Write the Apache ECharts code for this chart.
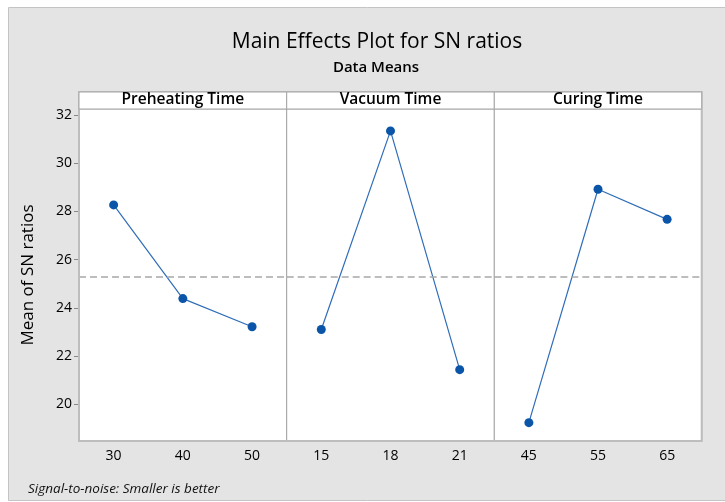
<!DOCTYPE html>
<html>
<head>
<meta charset="utf-8">
<script src="https://cdn.jsdelivr.net/npm/echarts@6/dist/echarts.min.js"></script>
<style>
	html, body { margin: 0; padding: 0; background: #fff; }
	#chart { width: 725px; height: 502px; }
</style>
</head>
<body>
<div id="chart"></div>
<script>
	// factors and their levels
	const factors = ['Preheating Time', 'Vacuum Time', 'Curing Time']
	const preheatLevels = ['30', '40', '50']
	const vacuumLevels = ['15', '18', '21']
	const curingLevels = ['45', '55', '65']

	// mean S/N ratio at each level
	const preheatMeans = [28.27, 24.38, 23.21]
	const vacuumMeans = [23.10, 31.34, 21.43]
	const curingMeans = [19.23, 28.92, 27.67]

	const overallMean = 25.28
	const yTicks = [20, 22, 24, 26, 28, 30, 32]

	const levels = [preheatLevels, vacuumLevels, curingLevels]
	const means = [preheatMeans, vacuumMeans, curingMeans]

	const FONT = 'Open Sans'
	const panelLeft = [79, 286.7, 494.3]
	const panelRight = [438.3, 230.7, 23.3]

	let mychart = echarts.init(document.getElementById('chart'))

	let grids = [], xAxes = [], yAxes = [], series = [], headers = []
	for (let i = 0; i < 3; i++) {
		grids.push({
			left: panelLeft[i],
			right: panelRight[i],
			top: 109,
			bottom: 61,
			show: true,
			borderColor: '#a6a6a6',
			borderWidth: 1,
			backgroundColor: '#fff'
		})
		xAxes.push({
			type: 'category',
			gridIndex: i,
			data: levels[i],
			boundaryGap: true,
			axisLine: { lineStyle: { color: '#a6a6a6' } },
			axisTick: { alignWithLabel: true, length: 5, lineStyle: { color: '#888' } },
			axisLabel: { color: '#000', fontFamily: FONT, fontSize: 14, margin: 8 }
		})
		yAxes.push({
			type: 'value',
			gridIndex: i,
			min: 18.47,
			max: 32.25,
			splitLine: { show: false },
			axisLine: { show: i == 0, lineStyle: { color: '#a6a6a6' } },
			axisTick: { show: i == 0, length: 5, customValues: yTicks, lineStyle: { color: '#888' } },
			axisLabel: { show: i == 0, customValues: yTicks, color: '#000', fontFamily: FONT, fontSize: 14, margin: 7 },
			name: i == 0 ? 'Mean of SN ratios' : '',
			nameLocation: 'middle',
			nameGap: 42,
			nameTextStyle: { color: '#000', fontFamily: FONT, fontSize: 17, fontWeight: 500 }
		})
		series.push({
			type: 'line',
			xAxisIndex: i,
			yAxisIndex: i,
			data: means[i],
			symbol: 'circle',
			symbolSize: 9,
			itemStyle: { color: '#0b55a8' },
			lineStyle: { color: '#2f6db8', width: 1.2 },
			silent: true,
			markLine: {
				silent: true,
				symbol: 'none',
				label: { show: false },
				lineStyle: { color: '#a8a8a8', type: [7, 4], width: 1.5 },
				data: [{ yAxis: overallMean }]
			}
		})
		let x0 = panelLeft[i]
		let w = 725 - panelRight[i] - x0
		headers.push({
			type: 'rect',
			shape: { x: x0, y: 92, width: w, height: 17 },
			style: { fill: '#fff', stroke: '#a6a6a6', lineWidth: 1 },
			z: 10
		})
		headers.push({
			type: 'text',
			x: x0 + w / 2,
			y: 100,
			style: {
				text: factors[i],
				fill: '#000',
				font: '600 15.5px "' + FONT + '"',
				textAlign: 'center',
				textVerticalAlign: 'middle'
			},
			z: 11
		})
	}

	mychart.setOption({
		animation: false,
		backgroundColor: '#fff',
		title: [{
			text: 'Main Effects Plot for SN ratios',
			left: 372,
			top: 27,
			textAlign: 'center',
			textStyle: { color: '#000', fontFamily: FONT, fontSize: 21, fontWeight: 500 }
		}, {
			text: 'Data Means',
			left: 371,
			top: 55,
			textAlign: 'center',
			textStyle: { color: '#000', fontFamily: FONT, fontSize: 15, fontWeight: 600 }
		}, {
			text: 'Signal-to-noise: Smaller is better',
			left: 23,
			top: 477,
			textStyle: { color: '#111', fontFamily: FONT, fontSize: 13.5, fontStyle: 'italic', fontWeight: 'normal' }
		}],
		graphic: [{
			type: 'rect',
			shape: { x: 8.5, y: 7.5, width: 730, height: 493 },
			style: { fill: '#e4e4e4', stroke: '#c4c4c4', lineWidth: 1 },
			z: -10
		}, {
			type: 'rect',
			shape: { x: 79, y: 92, width: 622.7, height: 349 },
			style: { fill: null, stroke: '#bdbdbd', lineWidth: 2 },
			z: 9
		}].concat(headers),
		grid: grids,
		xAxis: xAxes,
		yAxis: yAxes,
		series: series
	})
</script>
</body>
</html>
